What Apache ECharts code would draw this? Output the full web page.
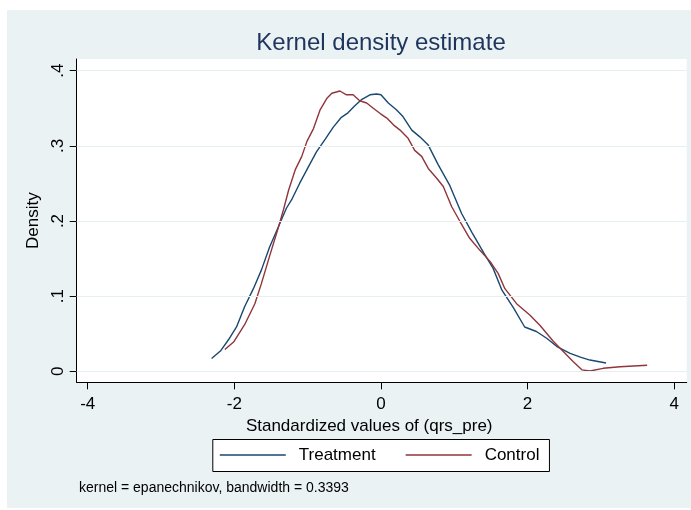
<!DOCTYPE html>
<html><head><meta charset="utf-8">
<script src="https://cdn.jsdelivr.net/npm/echarts@6/dist/echarts.min.js"></script>
<style>html,body{margin:0;padding:0;background:#fff}#c{width:691px;height:510px}</style>
</head><body><div id="c"></div>
<script>
// Treatment (blue) kernel density curve
const treatX = [-2.31,-2.19,-2.08,-1.97,-1.86,-1.74,-1.63,-1.52,-1.40,-1.29,-1.22,-1.11,-0.99,-0.88,-0.76,-0.65,-0.54,-0.45,-0.36,-0.26,-0.15,-0.06,0.0,0.10,0.21,0.30,0.42,0.53,0.645,0.78,0.94,1.10,1.24,1.40,1.53,1.65,1.81,1.96,2.12,2.26,2.40,2.58,2.72,2.85,3.07];
const treatY = [0.017,0.027,0.042,0.059,0.086,0.110,0.135,0.165,0.192,0.217,0.228,0.250,0.272,0.292,0.309,0.325,0.338,0.344,0.353,0.362,0.368,0.369,0.368,0.357,0.348,0.339,0.321,0.312,0.301,0.275,0.247,0.210,0.185,0.158,0.137,0.108,0.084,0.059,0.053,0.044,0.033,0.024,0.019,0.015,0.011];
// Control (red) kernel density curve
const ctrlX = [-2.13,-2.01,-1.86,-1.72,-1.63,-1.52,-1.41,-1.33,-1.26,-1.17,-1.08,-1.01,-0.92,-0.83,-0.74,-0.67,-0.56,-0.47,-0.38,-0.29,-0.195,-0.105,-0.01,0.08,0.17,0.26,0.37,0.46,0.555,0.645,0.76,0.85,0.965,1.08,1.21,1.35,1.49,1.60,1.69,1.85,2.03,2.17,2.35,2.48,2.62,2.74,2.85,3.03,3.26,3.63];
const ctrlY = [0.029,0.039,0.062,0.090,0.117,0.153,0.188,0.215,0.241,0.268,0.286,0.306,0.323,0.348,0.363,0.370,0.373,0.368,0.368,0.360,0.357,0.350,0.343,0.337,0.328,0.321,0.310,0.294,0.286,0.270,0.257,0.246,0.219,0.199,0.177,0.161,0.146,0.130,0.110,0.090,0.075,0.061,0.040,0.027,0.013,0.002,0.0005,0.004,0.006,0.008];
const seriesNames = ['Treatment','Control'];
const xTicks = [-4,-2,0,2,4];
const yTicks = [0,0.1,0.2,0.3,0.4];
const titleText = 'Kernel density estimate';
const xName = 'Standardized values of (qrs_pre)';
const yName = 'Density';
const noteText = 'kernel = epanechnikov, bandwidth = 0.3393';

const FONT = 'Liberation Sans, Arial, Helvetica, sans-serif';
const zip = (xs, ys) => xs.map((x, i) => [x, ys[i]]);

const chart = echarts.init(document.getElementById('c'), null, {renderer:'canvas'});
chart.setOption({
  animation:false,
  backgroundColor:'#ffffff',
  textStyle:{fontFamily:FONT},
  graphic:[{type:'rect', left:7, top:10, z:-100, silent:true, shape:{width:684, height:498}, style:{fill:'#EAF2F3'}}],
  title:[
    {text:titleText, left:381, top:31, textAlign:'center', padding:0,
     textStyle:{fontFamily:FONT, fontSize:24, fontWeight:'normal', color:'#1f355e'}},
    {text:noteText, left:79, top:481, padding:0,
     textStyle:{fontFamily:FONT, fontSize:14, fontWeight:'normal', color:'#000'}}
  ],
  grid:{left:76.7, right:4.3, top:59, bottom:127.7, show:true, backgroundColor:'#ffffff', borderWidth:0, containLabel:false},
  legend:{
    data:seriesNames, left:212.8, top:439.5, orient:'horizontal',
    padding:[7,10,8,7], itemGap:30, itemWidth:66, itemHeight:1.6, icon:'rect',
    borderColor:'#000', borderWidth:1, borderRadius:0, backgroundColor:'#fff',
    textStyle:{fontFamily:FONT, fontSize:17, color:'#000', padding:[0,0,0,8]}
  },
  xAxis:{
    type:'value', min:-4.15, max:4.17,
    axisLine:{show:true, onZero:false, lineStyle:{color:'#000', width:1}},
    axisTick:{show:true, length:7, customValues:xTicks, lineStyle:{color:'#000', width:1}},
    axisLabel:{customValues:xTicks, fontFamily:FONT, fontSize:17, color:'#000', margin:14},
    splitLine:{show:false},
    name:xName, nameLocation:'middle', nameGap:31,
    nameTextStyle:{fontFamily:FONT, fontSize:17, color:'#000', padding:[0,25,0,0]}
  },
  yAxis:{
    type:'value', min:-0.0146, max:0.4156,
    axisLine:{show:true, onZero:false, lineStyle:{color:'#000', width:1}},
    axisTick:{show:true, length:7, customValues:yTicks, lineStyle:{color:'#000', width:1}},
    axisLabel:{customValues:yTicks, rotate:90, fontFamily:FONT, fontSize:17, color:'#000', margin:10,
      formatter:v => v === 0 ? '0' : String(Math.round(v*10)/10).replace(/^0\./,'.')},
    splitLine:{show:false},
    name:yName, nameLocation:'middle', nameGap:29, nameRotate:90,
    nameTextStyle:{fontFamily:FONT, fontSize:17, color:'#000'}
  },
  series:[
    {type:'line', name:'_grid', data:[], z:1, silent:true,
     markLine:{silent:true, symbol:'none', animation:false, label:{show:false},
       lineStyle:{color:'#E6EFF1', width:1.2, type:'solid'},
       data:yTicks.map(v => ({yAxis:v}))}},
    {type:'line', name:seriesNames[0], data:zip(treatX, treatY), showSymbol:false, symbol:'none',
     color:'#1A476F', lineStyle:{color:'#1A476F', width:1.4}, z:3},
    {type:'line', name:seriesNames[1], data:zip(ctrlX, ctrlY), showSymbol:false, symbol:'none',
     color:'#90353B', lineStyle:{color:'#90353B', width:1.4}, z:3}
  ]
});
</script>
</body></html>
